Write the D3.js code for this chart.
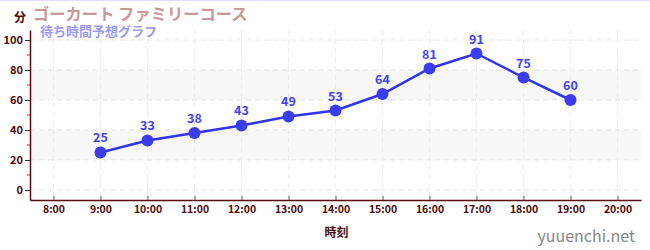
<!DOCTYPE html>
<html>
<head>
<meta charset="utf-8">
<script src="https://cdn.jsdelivr.net/npm/d3@7"></script>
<style>
  body { margin: 0; background: #fff; }
  text { font-family: "Noto Sans CJK JP", "Noto Sans", sans-serif; }
</style>
</head>
<body>
<div id="chart"></div>
<script>
const hours = [8, 9, 10, 11, 12, 13, 14, 15, 16, 17, 18, 19, 20]
const waitHours = [9, 10, 11, 12, 13, 14, 15, 16, 17, 18, 19]
const waitMinutes = [25, 33, 38, 43, 49, 53, 64, 81, 91, 75, 60]
const yTicks = [0, 20, 40, 60, 80, 100]
const bands = [[20, 40], [60, 80]]

const W = 650, H = 250
const LEFT = 30, RIGHT = 641, TOP = 30, BOTTOM = 200

const svg = d3.select("#chart").append("svg")
    .attr("width", W)
    .attr("height", H)

svg.append("line")
    .attr("x1", 0).attr("x2", W).attr("y1", 0.5).attr("y2", 0.5)
    .attr("stroke", "#e0e0fa")

const x = d3.scaleLinear().domain([7.5, 20.5]).range([LEFT, RIGHT])
const y = d3.scaleLinear().domain([-6.67, 106.67]).range([BOTTOM, TOP])

// bands
svg.selectAll("rect.band")
    .data(bands)
    .enter().append("rect")
    .attr("class", "band")
    .attr("x", LEFT)
    .attr("width", RIGHT - LEFT)
    .attr("y", d => y(d[1]))
    .attr("height", d => y(d[0]) - y(d[1]))
    .attr("fill", "#f7f7f7")

// grid
svg.selectAll("line.hgrid")
    .data(yTicks)
    .enter().append("line")
    .attr("x1", LEFT).attr("x2", RIGHT)
    .attr("y1", d => y(d)).attr("y2", d => y(d))
    .attr("stroke", "#e6e6e6")
    .attr("stroke-dasharray", "5,4")

svg.selectAll("line.vgrid")
    .data(hours)
    .enter().append("line")
    .attr("x1", d => x(d)).attr("x2", d => x(d))
    .attr("y1", TOP).attr("y2", BOTTOM)
    .attr("stroke", "#ececec")
    .attr("stroke-dasharray", "5,4")

// y axis
const yAxis = svg.append("g")
    .attr("transform", `translate(${LEFT},0)`)
    .call(d3.axisLeft(y).tickValues(yTicks).tickSize(5).tickSizeOuter(0))
yAxis.select(".domain").attr("stroke", "#5a0a0a").attr("stroke-width", 1.5)
yAxis.selectAll(".tick line").attr("stroke", "#333")
yAxis.selectAll(".tick text")
    .attr("fill", "#4a0a0a")
    .attr("font-size", 11)
    .attr("font-weight", "bold")
    .attr("font-family", "Noto Sans")
    .attr("x", -7)

svg.append("g")
    .attr("transform", `translate(${LEFT},0)`)
    .selectAll("line")
    .data([10, 30, 50, 70, 90])
    .enter().append("line")
    .attr("x1", -3).attr("x2", 0)
    .attr("y1", d => y(d)).attr("y2", d => y(d))
    .attr("stroke", "#dd2222")

// x axis
const xAxis = svg.append("g")
    .attr("transform", `translate(0,${BOTTOM})`)
    .call(d3.axisBottom(x).tickValues(hours).tickFormat(d => d + ":00").tickSize(-4).tickSizeOuter(0))
xAxis.select(".domain").attr("stroke", "#5a0a0a").attr("stroke-width", 1.5)
xAxis.selectAll(".tick line").attr("stroke", "#555")
xAxis.selectAll(".tick text")
    .attr("fill", "#4a0a0a")
    .attr("font-size", 10.5)
    .attr("font-weight", "bold")
    .attr("font-family", "Noto Sans")
    .attr("y", 6)

// line
const line = d3.line()
    .x((d, i) => x(waitHours[i]))
    .y(d => y(d))

svg.append("path")
    .datum(waitMinutes)
    .attr("d", line)
    .attr("fill", "none")
    .attr("stroke", "#3333ee")
    .attr("stroke-width", 2.5)

svg.selectAll("circle")
    .data(waitMinutes)
    .enter().append("circle")
    .attr("cx", (d, i) => x(waitHours[i]))
    .attr("cy", d => y(d))
    .attr("r", 6)
    .attr("fill", "#3b3bf0")

svg.selectAll("text.val")
    .data(waitMinutes)
    .enter().append("text")
    .attr("class", "val")
    .attr("x", (d, i) => x(waitHours[i]))
    .attr("y", d => y(d) - 10)
    .attr("text-anchor", "middle")
    .attr("fill", "#4444ee")
    .attr("font-size", 12.5)
    .attr("font-weight", "bold")
    .attr("font-family", "Noto Sans")
    .text(d => d)

// titles
svg.append("text")
    .attr("x", 14).attr("y", 22)
    .attr("fill", "#4a0a0a")
    .attr("font-size", 12)
    .attr("font-weight", "bold")
    .text("分")

svg.append("text")
    .attr("x", 33).attr("y", 20)
    .attr("fill", "#c89898")
    .attr("font-size", 16.3)
    .attr("font-weight", "bold")
    .text("ゴーカート ファミリーコース")

svg.append("text")
    .attr("x", 40).attr("y", 36)
    .attr("fill", "#9a9af0")
    .attr("font-size", 13)
    .attr("font-weight", "bold")
    .text("待ち時間予想グラフ")

svg.append("text")
    .attr("x", (LEFT + RIGHT) / 2 + 1).attr("y", 237)
    .attr("text-anchor", "middle")
    .attr("fill", "#4a0a0a")
    .attr("font-size", 12)
    .attr("font-weight", "bold")
    .text("時刻")

svg.append("text")
    .attr("x", 635).attr("y", 242)
    .attr("text-anchor", "end")
    .attr("fill", "#888")
    .attr("font-size", 16)
    .attr("font-family", "Noto Sans")
    .text("yuuenchi.net")
</script>
</body>
</html>
